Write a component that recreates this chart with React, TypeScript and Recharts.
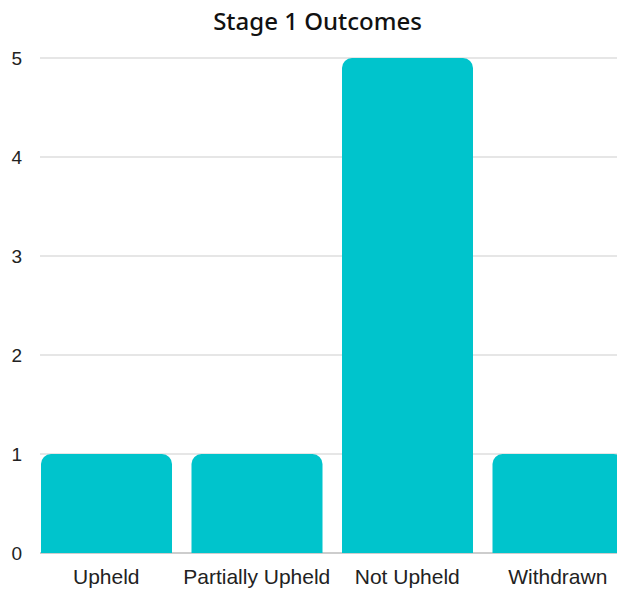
import React from "react";
import { BarChart, Bar, XAxis, YAxis, CartesianGrid } from "recharts";

const categories = ["Upheld", "Partially Upheld", "Not Upheld", "Withdrawn"];
const counts = [1, 1, 5, 1];
const yTicks = [0, 1, 2, 3, 4, 5];

const data = categories.map((name, i) => ({ name, value: counts[i] }));

const GridLine = (p: any) => (
  <line
    key={p.key}
    x1={p.x1 + 9}
    x2={p.x2}
    y1={p.y1}
    y2={p.y2}
    stroke={p.index === 0 ? "#bdbdbd" : "#dedede"}
    strokeWidth={1.5}
  />
);

export default function App() {
  return (
    <div
      style={{
        position: "absolute",
        left: 0,
        top: 0,
        width: 617,
        height: 590,
        overflow: "hidden",
        background: "#fff",
      }}
    >
      <div
        style={{
          position: "absolute",
          left: 0,
          top: 4,
          width: 635,
          textAlign: "center",
          fontFamily: "'Noto Sans', sans-serif",
          fontWeight: 500,
          fontSize: 24,
          color: "#111",
        }}
      >
        Stage 1 Outcomes
      </div>
      <BarChart
        width={635}
        height={590}
        data={data}
        margin={{ top: 58, right: 2, bottom: 7, left: 0 }}
        barCategoryGap={10}
      >
        <CartesianGrid vertical={false} horizontal={GridLine} />
        <XAxis
          dataKey="name"
          axisLine={false}
          tickLine={false}
          tickSize={0}
          tickMargin={16}
          height={30}
          interval={0}
          tick={{ fill: "#222", fontSize: 21, fontFamily: "Liberation Sans, Arial, sans-serif" }}
        />
        <YAxis
          domain={[0, 5]}
          ticks={yTicks}
          axisLine={false}
          tickLine={false}
          tickSize={0}
          tickMargin={9}
          width={31}
          tick={{ fill: "#222", fontSize: 19, fontFamily: "Liberation Sans, Arial, sans-serif" }}
        />
        <Bar dataKey="value" fill="#00C4CC" radius={[10, 10, 0, 0]} isAnimationActive={false} />
      </BarChart>
    </div>
  );
}
